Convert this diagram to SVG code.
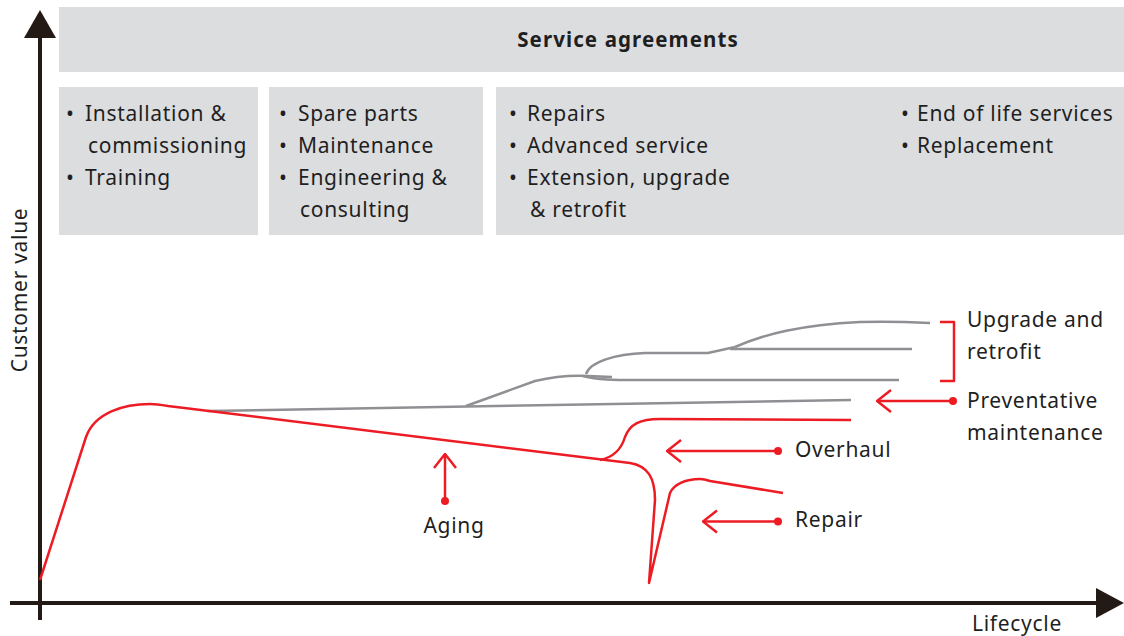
<svg xmlns="http://www.w3.org/2000/svg" width="1124" height="636" viewBox="0 0 1124 636">
<style>
.box{fill:#dcdddf}
.t{font-family:"Noto Sans","Open Sans",sans-serif;font-size:21px;letter-spacing:0.7px;fill:#1f1f1f}
.bl{font-family:"Noto Sans","Open Sans",sans-serif;font-size:21px;fill:#1f1f1f;text-anchor:middle}
.b{font-weight:bold;text-anchor:middle;font-size:20.5px;letter-spacing:1.1px}
.red{fill:none;stroke:#ed1c24;stroke-width:2.5;stroke-linejoin:round;stroke-linecap:butt}
.gray{fill:none;stroke:#909094;stroke-width:2.5}
.axis{stroke:#231a16;stroke-width:4;fill:none}
.dot{fill:#ed1c24}
</style>
<defs>
<marker id="chev" viewBox="0 0 20 30" refX="19" refY="15" markerWidth="20" markerHeight="30" markerUnits="userSpaceOnUse" orient="auto">
<path d="M5,4 L19,15 L5,26" fill="none" stroke="#ed1c24" stroke-width="2.5"/>
</marker>
</defs>
<g id="axes">
<line class="axis" x1="40" y1="620" x2="40" y2="36"/>
<polygon points="24,38 56,38 40,10" fill="#231a16"/>
<line class="axis" x1="10" y1="603" x2="1098" y2="603"/>
<polygon points="1096,588 1096,618 1124,603" fill="#231a16"/>
<text class="t" x="0" y="0" transform="translate(27,290) rotate(-90)" text-anchor="middle">Customer value</text>
<text class="t" x="972" y="631">Lifecycle</text>
</g>
<g id="service-agreements">
<rect class="box" x="59" y="7" width="1065" height="65"/>
<text class="t b" x="628" y="47">Service agreements</text>
</g>
<g id="box1">
<rect class="box" x="59" y="87" width="199" height="148"/>
<text class="bl" x="70" y="121">•</text><text class="bl" x="70" y="185">•</text>
<text class="t"><tspan x="85" y="121">Installation &amp;</tspan><tspan x="88" y="153">commissioning</tspan><tspan x="85" y="185">Training</tspan></text>
</g>
<g id="box2">
<rect class="box" x="269" y="87" width="214" height="148"/>
<text class="bl" x="283" y="121">•</text><text class="bl" x="283" y="153">•</text><text class="bl" x="283" y="185">•</text>
<text class="t"><tspan x="298" y="121">Spare parts</tspan><tspan x="298" y="153">Maintenance</tspan><tspan x="298" y="185">Engineering &amp;</tspan><tspan x="300" y="217">consulting</tspan></text>
</g>
<g id="box3">
<rect class="box" x="496" y="87" width="628" height="148"/>
<text class="bl" x="513" y="121">•</text><text class="bl" x="513" y="153">•</text><text class="bl" x="513" y="185">•</text>
<text class="t"><tspan x="527" y="121">Repairs</tspan><tspan x="527" y="153">Advanced service</tspan><tspan x="527" y="185">Extension, upgrade</tspan><tspan x="530" y="217">&amp; retrofit</tspan></text>
<text class="bl" x="905" y="121">•</text><text class="bl" x="905" y="153">•</text>
<text class="t"><tspan x="917" y="121">End of life services</tspan><tspan x="917" y="153">Replacement</tspan></text>
</g>
<g id="curves">
<path class="gray" d="M207,411 L851,400"/>
<path class="gray" d="M466,406 L535,381 C552,377 570,375 588,376 L612,377"/>
<path class="gray" d="M583,376 C598,380 612,380 640,380 L899,380"/>
<path class="gray" d="M586,374 C590,362 615,354 645,353 L708,353 L735,347"/>
<path class="gray" d="M730,349 L912,349"/>
<path class="gray" d="M735,347 C765,334 800,325 860,322 C890,321 910,322 930,323"/>
<path class="red" d="M40,580 L86,437 C95,412 125,404 150,404 C155,404 162,405 168,406 L630,463 C648,466 655,478 655,500 L649,583 L670,493 C674,484 686,479 700,479 C704,479 707,480 710,481 L783,493"/>
<path class="red" d="M600,460 C615,457 622,447 625,437 C630,424 640,419 660,419 L851,420"/>
<path class="red" d="M940,322 H954 V381 H940"/>
</g>
<g id="connectors">
<line class="red" x1="953" y1="401" x2="877" y2="401" marker-end="url(#chev)"/>
<circle class="dot" cx="953" cy="401" r="4"/>
<line class="red" x1="778" y1="451" x2="667" y2="451" marker-end="url(#chev)"/>
<circle class="dot" cx="778" cy="451" r="4"/>
<line class="red" x1="778" y1="521.5" x2="703" y2="521.5" marker-end="url(#chev)"/>
<circle class="dot" cx="778" cy="521.5" r="4"/>
<line class="red" x1="445" y1="501" x2="445" y2="454" marker-end="url(#chev)"/>
<circle class="dot" cx="445" cy="501" r="4"/>
</g>
<g id="labels">
<text class="t" x="967" y="327">Upgrade and</text>
<text class="t" x="967" y="359">retrofit</text>
<text class="t" x="967" y="408">Preventative</text>
<text class="t" x="967" y="440">maintenance</text>
<text class="t" x="795" y="457">Overhaul</text>
<text class="t" x="795" y="527">Repair</text>
<text class="t" x="454" y="533" text-anchor="middle">Aging</text>
</g>
</svg>
